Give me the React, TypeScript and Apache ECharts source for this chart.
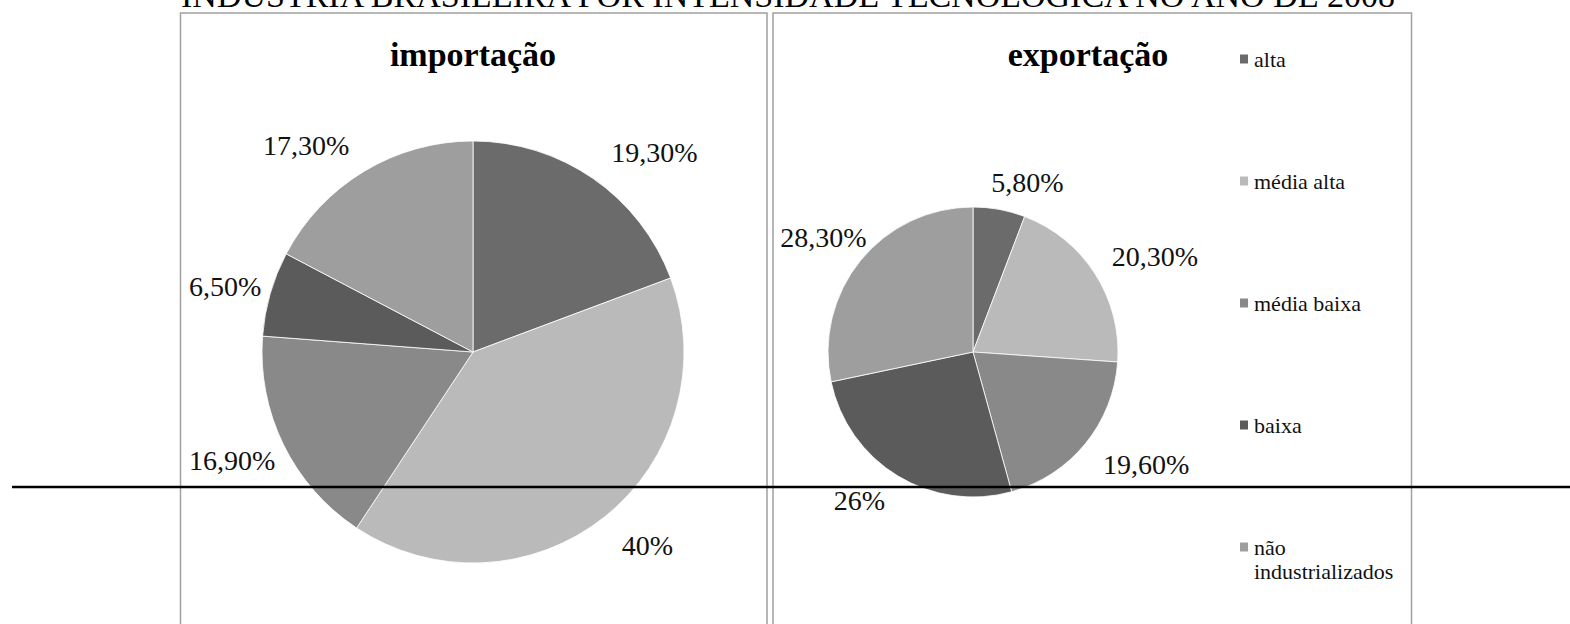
import React, { useEffect, useRef } from "react";
import * as echarts from "echarts";

const categories = ["alta", "média alta", "média baixa", "baixa", "não industrializados"];
const importValues = [19.3, 40, 16.9, 6.5, 17.3];
const exportValues = [5.8, 20.3, 19.6, 26, 28.3];
const sliceColors = ["#6b6b6b", "#bababa", "#898989", "#5b5b5b", "#9e9e9e"];

const chartTitle = "INDÚSTRIA BRASILEIRA POR INTENSIDADE TECNOLÓGICA NO ANO DE 2008";
const importTitle = "importação";
const exportTitle = "exportação";

// label nudges (style only)
const importNudge = [[2, -3], [0, 7], [17, 3], [18, 0], [0, -2]];
const exportNudge = [[-13, 1], [-7, -2], [-4, 3], [2, 1], [28, -5]];

const FONT = "'Liberation Serif', 'Times New Roman', serif";

function fmt(v: number): string {
  return Number.isInteger(v) ? `${v}%` : v.toFixed(2).replace(".", ",") + "%";
}

function pieSeries(name: string, values: number[], center: number[], radius: number, nudge: number[][]) {
  return {
    type: "pie",
    name,
    center,
    radius,
    startAngle: 90,
    clockwise: true,
    avoidLabelOverlap: false,
    data: categories.map((c, i) => ({ name: c, value: values[i] })),
    itemStyle: { borderColor: "#ffffff", borderWidth: 0.8 },
    label: {
      show: true,
      position: "outside",
      formatter: (p: any) => fmt(p.value),
      fontFamily: FONT,
      fontSize: 28,
      color: "#111111",
      distanceToLabelLine: 0,
    },
    labelLine: { show: false, length: 28, length2: 0 },
    labelLayout: (p: any) => {
      const n = nudge[p.dataIndex] || [0, 0];
      return { dx: n[0], dy: n[1] };
    },
    emphasis: { disabled: true },
  };
}

export default function App() {
  const ref = useRef<HTMLDivElement>(null);
  useEffect(() => {
    if (!ref.current) return;
    const chart = echarts.init(ref.current, undefined, { renderer: "svg" });
    chart.setOption({
      animation: false,
      backgroundColor: "#ffffff",
      color: sliceColors,
      legend: [
        {
          orient: "vertical",
          left: 1238,
          top: 47,
          padding: 0,
          itemGap: 98,
          itemWidth: 10,
          itemHeight: 11,
          icon: "rect",
          selectedMode: false,
          data: categories.slice(0, 4),
          textStyle: { fontFamily: FONT, fontSize: 22, color: "#111111", lineHeight: 24 },
        },
        {
          orient: "vertical",
          left: 1238,
          top: 511,
          padding: 0,
          itemWidth: 10,
          itemHeight: 11,
          icon: "rect",
          selectedMode: false,
          data: categories.slice(4),
          formatter: (n: string) => "\n" + n.replace(" ", "\n"),
          textStyle: {
            fontFamily: FONT,
            fontSize: 22,
            color: "#111111",
            lineHeight: 24,
          },
        },
      ],
      graphic: [
        {
          type: "rect",
          z: 1,
          shape: { x: 180.5, y: 13, width: 586.5, height: 640 },
          style: { fill: "none", stroke: "#a0a0a0", lineWidth: 1.5 },
        },
        {
          type: "rect",
          z: 1,
          shape: { x: 773, y: 13, width: 638.5, height: 640 },
          style: { fill: "none", stroke: "#a0a0a0", lineWidth: 1.5 },
        },
        {
          type: "text",
          z: 5,
          style: {
            text: chartTitle,
            x: 788,
            y: -4.5,
            align: "center",
            verticalAlign: "middle",
            font: `34px ${FONT}`,
            fill: "#000000",
          },
        },
        {
          type: "text",
          z: 5,
          style: {
            text: importTitle,
            x: 473,
            y: 54,
            align: "center",
            verticalAlign: "middle",
            font: `bold 34px ${FONT}`,
            fill: "#000000",
          },
        },
        {
          type: "text",
          z: 5,
          style: {
            text: exportTitle,
            x: 1088,
            y: 54,
            align: "center",
            verticalAlign: "middle",
            font: `bold 34px ${FONT}`,
            fill: "#000000",
          },
        },
        {
          type: "line",
          z: 100,
          zlevel: 0,
          shape: { x1: 12, y1: 487, x2: 1570, y2: 487 },
          style: { stroke: "#000000", lineWidth: 2.5 },
        },
      ],
      series: [
        pieSeries("importação", importValues, [473, 352], 211, importNudge),
        pieSeries("exportação", exportValues, [973, 352], 145, exportNudge),
      ],
    });
    return () => chart.dispose();
  }, []);
  return (
    <div
      ref={ref}
      style={{ position: "absolute", left: 0, top: 0, width: 1570, height: 624 }}
    />
  );
}
